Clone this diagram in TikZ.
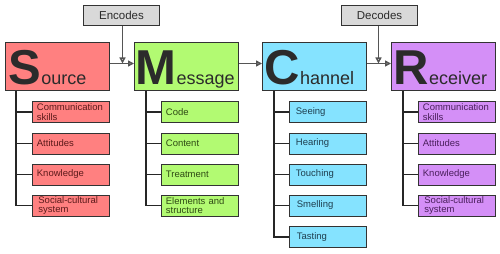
\documentclass[tikz,border=0pt]{standalone}
\usepackage{fontspec}
\setmainfont{Liberation Sans}
\usetikzlibrary{arrows.meta}
\definecolor{srcfill}{HTML}{FF8080}
\definecolor{msgfill}{HTML}{B2FA72}
\definecolor{chnfill}{HTML}{85E3FF}
\definecolor{rcvfill}{HTML}{D48FF7}
\definecolor{graybox}{HTML}{D9D9D9}
\definecolor{boxline}{HTML}{333333}
\definecolor{maintext}{HTML}{2B2B2B}
\definecolor{srctext}{HTML}{5C1A1A}
\definecolor{msgtext}{HTML}{2E4A14}
\definecolor{chntext}{HTML}{1F3F4F}
\definecolor{rcvtext}{HTML}{4A1F5C}
\definecolor{arrowgray}{HTML}{555555}
\tikzset{
  mainbox/.style={draw=boxline, line width=1pt, minimum width=104pt, minimum height=48pt, inner sep=0pt, anchor=north west},
  bigtext/.style={text=maintext, inner sep=0pt, anchor=base west, font=\fontsize{18}{20}\selectfont},
  subbox/.style={draw=boxline, line width=0.8pt, minimum width=77pt, minimum height=21pt, text width=68pt, inner xsep=4.5pt, inner ysep=0pt, align=left, anchor=west, font=\fontsize{9.5}{9.6}\selectfont},
  topbox/.style={draw=boxline, fill=graybox, line width=1pt, minimum width=76pt, minimum height=20pt, inner sep=0pt, anchor=north west, text=maintext, font=\fontsize{11.5}{12}\selectfont},
  tree/.style={draw=black!85, line width=1.5pt},
  flow/.style={draw=arrowgray, line width=1.5pt, -{Triangle[open, fill=white, length=6pt, width=6pt]}}
}
\newcommand{\BigInitial}[1]{{\fontsize{49}{50}\selectfont\bfseries #1}}
\begin{document}
\begin{tikzpicture}[x=1pt, y=-1pt]
\useasboundingbox (0,0) rectangle (500,254);
\fill[white] (0,0) rectangle (500,254);

% top boxes
\node[topbox] (E) at (83,5) {Encodes};
\node[topbox] (D) at (341,5) {Decodes};

% main boxes
\node[mainbox, fill=srcfill] (S) at (5,42) {};
\node[mainbox, fill=msgfill] (M) at (134,42) {};
\node[mainbox, fill=chnfill] (C) at (262,42) {};
\node[mainbox, fill=rcvfill] (R) at (391,42) {};

\node[bigtext] (St) at (8.5,84) {\BigInitial{S}ource};
\node[bigtext] (Mt) at (135.5,84) {\BigInitial{M}essage};
\node[bigtext] (Ct) at (264.5,84) {\BigInitial{C}hannel};
\node[bigtext] (Rt) at (393.5,84) {\BigInitial{R}eceiver};

% flow arrows
\coordinate (a1) at ([yshift=3pt]S.east);
\coordinate (b1) at ([yshift=3pt]M.west);
\coordinate (a2) at ([yshift=3pt]M.east);
\coordinate (b2) at ([yshift=3pt]C.west);
\coordinate (a3) at ([yshift=3pt]C.east);
\coordinate (b3) at ([yshift=3pt]R.west);
\draw[flow] (a1) -- (b1);
\draw[flow] (a2) -- (b2);
\draw[flow] (a3) -- (b3);
\coordinate (ei) at ([xshift=1pt]E.south);
\coordinate (di) at ([xshift=-1pt]D.south);
\draw[flow] (ei) -- (ei |- a1);
\draw[flow] (di) -- (di |- a3);

% sub boxes: Source
\node[subbox, fill=srcfill, text=srctext] (s1) at (32,112) {Communication\\skills};
\node[subbox, fill=srcfill, text=srctext] (s2) at (32,143.5) {Attitudes};
\node[subbox, fill=srcfill, text=srctext] (s3) at (32,174.5) {Knowledge};
\node[subbox, fill=srcfill, text=srctext] (s4) at (32,205.5) {\hspace*{1.5pt}Social-cultural\\\hspace*{1.5pt}system};
% Message
\node[subbox, fill=msgfill, text=msgtext] (m1) at (161,112) {Code};
\node[subbox, fill=msgfill, text=msgtext] (m2) at (161,143.5) {Content};
\node[subbox, fill=msgfill, text=msgtext] (m3) at (161,174.5) {Treatment};
\node[subbox, fill=msgfill, text=msgtext] (m4) at (161,205.5) {Elements and\\structure};
% Channel
\node[subbox, fill=chnfill, text=chntext] (c1) at (289,112) {\hspace*{2pt}Seeing};
\node[subbox, fill=chnfill, text=chntext] (c2) at (289,143.5) {\hspace*{2pt}Hearing};
\node[subbox, fill=chnfill, text=chntext] (c3) at (289,174.5) {\hspace*{2pt}Touching};
\node[subbox, fill=chnfill, text=chntext] (c4) at (289,205.5) {\hspace*{3pt}Smelling};
\node[subbox, fill=chnfill, text=chntext] (c5) at (289,237) {\hspace*{3pt}Tasting};
% Receiver
\node[subbox, fill=rcvfill, text=rcvtext] (r1) at (418,112) {Communication\\skills};
\node[subbox, fill=rcvfill, text=rcvtext] (r2) at (418,143.5) {Attitudes};
\node[subbox, fill=rcvfill, text=rcvtext] (r3) at (418,174.5) {Knowledge};
\node[subbox, fill=rcvfill, text=rcvtext] (r4) at (418,205.5) {\hspace*{1.5pt}Social-cultural\\\hspace*{1.5pt}system};

% trees
\coordinate (ts) at ([xshift=11pt]S.south west);
\coordinate (tm) at ([xshift=12pt]M.south west);
\coordinate (tc) at ([xshift=12pt]C.south west);
\coordinate (tr) at ([xshift=12pt]R.south west);
\draw[tree] (ts) |- (s4.west);
\foreach \n in {s1,s2,s3} \draw[tree] (ts |- \n.west) -- (\n.west);
\draw[tree] (tm) |- (m4.west);
\foreach \n in {m1,m2,m3} \draw[tree] (tm |- \n.west) -- (\n.west);
\draw[tree] (tc) |- (c5.west);
\foreach \n in {c1,c2,c3,c4} \draw[tree] (tc |- \n.west) -- (\n.west);
\draw[tree] (tr) |- (r4.west);
\foreach \n in {r1,r2,r3} \draw[tree] (tr |- \n.west) -- (\n.west);
\end{tikzpicture}
\end{document}
